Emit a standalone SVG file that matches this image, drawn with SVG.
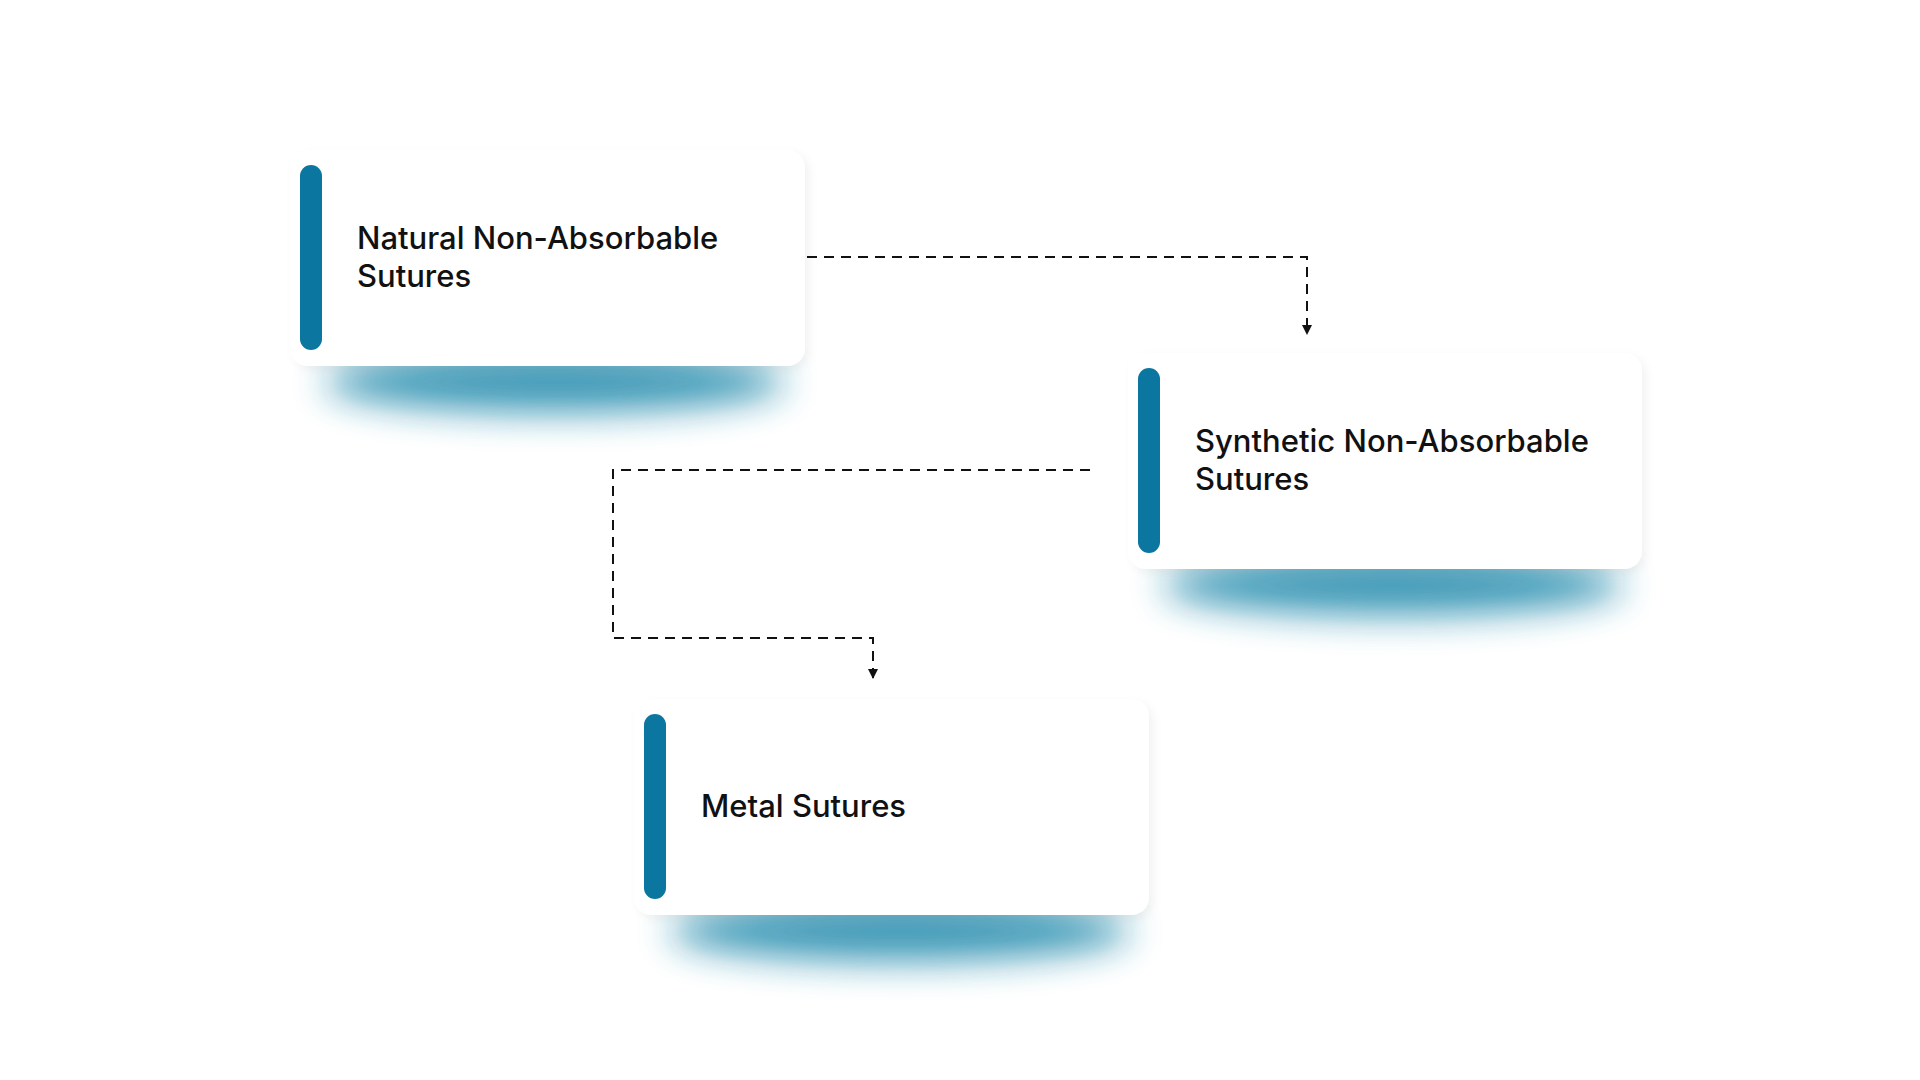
<svg xmlns="http://www.w3.org/2000/svg" width="1920" height="1080" viewBox="0 0 1920 1080">
<defs>
<style>
.card{fill:#fff;filter:url(#sh)}
.bar{fill:#0b77a0}
.t{font-family:Inter,"Liberation Sans",sans-serif;font-size:31px;font-weight:500;fill:#111}
.c{fill:none;stroke:#111;stroke-width:2;stroke-dasharray:10 7}
</style>
<filter id="sh" x="-20%" y="-20%" width="140%" height="150%">
<feDropShadow dx="4" dy="4" stdDeviation="5" flood-color="#000" flood-opacity="0.05"/>
</filter>
<filter id="blur" x="-40%" y="-150%" width="180%" height="400%"><feGaussianBlur stdDeviation="18"/></filter>
<marker id="ah" markerWidth="12" markerHeight="12" refX="10" refY="5" orient="auto" markerUnits="userSpaceOnUse">
<path d="M0,0 L10,5 L0,10 Z" fill="#111"/>
</marker>
</defs>
<rect width="1920" height="1080" fill="#fff"/>
<g id="connectors">
<path class="c" d="M807,257 H1307 V335" marker-end="url(#ah)"/>
<path class="c" d="M1090,470 H613 V638 H873 V679" marker-end="url(#ah)"/>
</g>
<g id="n1">
<ellipse cx="555" cy="382" rx="230" ry="30" fill="#1c87aa" opacity="0.85" filter="url(#blur)"/>
<rect class="card" x="290" y="150" width="515" height="216" rx="18"/>
<rect class="bar" x="300" y="165" width="22" height="185" rx="11"/>
<text class="t" x="357" y="249">Natural Non-Absorbable</text>
<text class="t" x="357" y="287">Sutures</text>
</g>
<g id="n2">
<ellipse cx="1393" cy="585" rx="230" ry="30" fill="#1c87aa" opacity="0.85" filter="url(#blur)"/>
<rect class="card" x="1128" y="353" width="514" height="216" rx="18"/>
<rect class="bar" x="1138" y="368" width="22" height="185" rx="11"/>
<text class="t" x="1195" y="452">Synthetic Non-Absorbable</text>
<text class="t" x="1195" y="490">Sutures</text>
</g>
<g id="n3">
<ellipse cx="900" cy="931" rx="230" ry="30" fill="#1c87aa" opacity="0.85" filter="url(#blur)"/>
<rect class="card" x="634" y="699" width="515" height="216" rx="18"/>
<rect class="bar" x="644" y="714" width="22" height="185" rx="11"/>
<text class="t" x="701" y="817">Metal Sutures</text>
</g>
</svg>
